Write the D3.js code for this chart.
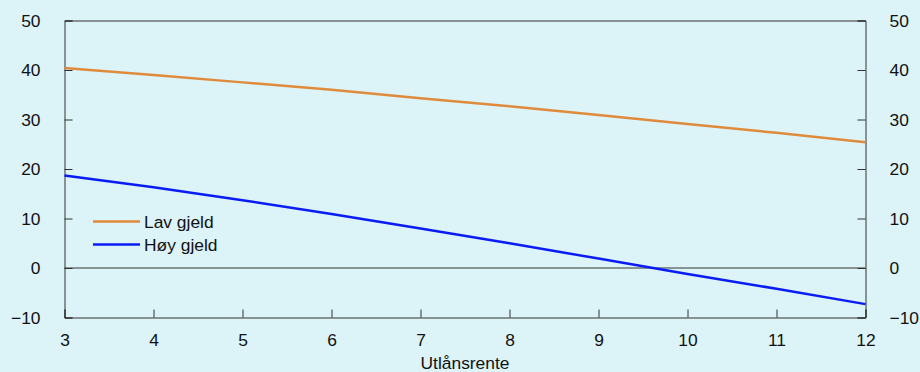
<!DOCTYPE html>
<html>
<head>
<meta charset="utf-8">
<script src="https://cdn.jsdelivr.net/npm/d3@7"></script>
<style>
html,body{margin:0;padding:0;background:#dcf3f8;}
svg{display:block;font-family:"Liberation Sans",Arial,Helvetica,sans-serif;}
</style>
</head>
<body>
<svg id="chart" width="920" height="372"></svg>
<script>
const xValues = [3, 4, 5, 6, 7, 8, 9, 10, 11, 12];
const lavGjeld = [40.4, 39.0, 37.5, 36.0, 34.3, 32.7, 30.9, 29.1, 27.3, 25.4];
const hoyGjeld = [18.7, 16.3, 13.7, 10.9, 8.0, 5.0, 1.9, -1.2, -4.2, -7.3];
const seriesNames = ["Lav gjeld", "Høy gjeld"];
const seriesColors = ["#e08b3c", "#0a1cf5"];
const xTicks = [3, 4, 5, 6, 7, 8, 9, 10, 11, 12];
const yTicks = [-10, 0, 10, 20, 30, 40, 50];
const xTitle = "Utlånsrente";

const svg = d3.select("#chart");
const W = 920, H = 372;
const m = {left: 64.5, right: 865.5, top: 20.5, bottom: 317.5};

svg.append("rect").attr("width", W).attr("height", H).attr("fill", "#dcf3f8");

const x = d3.scaleLinear().domain([3, 12]).range([m.left, m.right]);
const y = d3.scaleLinear().domain([-10, 50]).range([m.bottom, m.top]);

const axisColor = "#333";
const fs = 17.4;

// zero line
svg.append("line").attr("x1", m.left).attr("x2", m.right)
  .attr("y1", y(0)).attr("y2", y(0)).attr("stroke", axisColor).attr("stroke-width", 1);

// Left axis
const gl = svg.append("g").attr("transform", `translate(${m.left},0)`)
  .call(d3.axisLeft(y).tickValues(yTicks).tickSize(-8).tickPadding(24)
    .tickFormat(d => d < 0 ? "\u2212" + Math.abs(d) : d));
// Right axis
const gr = svg.append("g").attr("transform", `translate(${m.right},0)`)
  .call(d3.axisRight(y).tickValues(yTicks).tickSize(-8).tickPadding(24)
    .tickFormat(d => d < 0 ? "\u2212" + Math.abs(d) : d));
// Bottom axis
const gb = svg.append("g").attr("transform", `translate(0,${m.bottom})`)
  .call(d3.axisBottom(x).tickValues(xTicks).tickSize(-8).tickPadding(16).tickFormat(d3.format("d")));
// Top axis (frame only)
const gt = svg.append("g").attr("transform", `translate(0,${m.top})`)
  .call(d3.axisTop(x).tickValues([]).tickSize(0));

[gl, gr, gb, gt].forEach(g => {
  g.select(".domain").attr("stroke", axisColor).attr("stroke-width", 1);
  g.selectAll(".tick line").attr("stroke", axisColor);
  g.selectAll("text").attr("fill", "#111").style("font-size", fs + "px")
    .style("font-family", '"Liberation Sans",Arial,sans-serif');
});
gl.selectAll(".tick text").attr("x", -24);
gr.selectAll(".tick text").attr("x", 24);
gb.selectAll(".tick text").attr("y", 16);

// x title
svg.append("text").attr("x", x(7.5)).attr("y", 369).attr("text-anchor", "middle")
  .style("font-size", fs + "px").attr("fill", "#111").text(xTitle);

// lines
const line = d3.line().x((d, i) => x(xValues[i])).y(d => y(d));
[lavGjeld, hoyGjeld].forEach((s, i) => {
  svg.append("path").datum(s).attr("d", line).attr("fill", "none")
    .attr("stroke", seriesColors[i]).attr("stroke-width", 2.5);
});

// legend
const legY = [221.5, 244.5];
seriesNames.forEach((n, i) => {
  svg.append("line").attr("x1", 93).attr("x2", 140).attr("y1", legY[i]).attr("y2", legY[i])
    .attr("stroke", seriesColors[i]).attr("stroke-width", 2.5);
  svg.append("text").attr("x", 144).attr("y", legY[i]).attr("dy", "0.35em")
    .style("font-size", fs + "px").attr("fill", "#111").text(n);
});
</script>
</body>
</html>
